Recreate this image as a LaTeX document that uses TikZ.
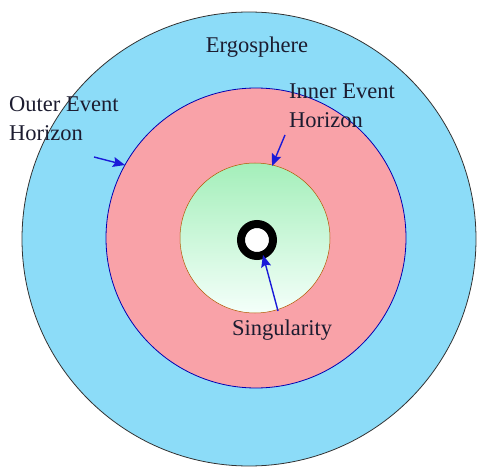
\documentclass[tikz,border=0pt]{standalone}
\usepackage{fontspec}
\setmainfont{Liberation Serif}
\usetikzlibrary{arrows.meta}
\definecolor{ergoblue}{HTML}{8CDCF8}
\definecolor{horizonpink}{HTML}{F9A2A8}
\definecolor{coregreen}{HTML}{A4EFBA}
\definecolor{corewhite}{HTML}{F4FFFA}
\definecolor{arrowblue}{HTML}{1A1AD8}
\definecolor{labelink}{HTML}{1C1C30}

\begin{document}
\begin{tikzpicture}[x=1pt,y=-1pt]
  \tikzset{zone/.style={circle,inner sep=0pt,line width=0.8pt}}
  \tikzset{zonelabel/.style={font=\rmfamily\fontsize{22.5}{29}\selectfont,inner sep=0pt,align=left,text=labelink}}
  \tikzset{pointer/.style={draw=arrowblue,line width=1.4pt,-{Stealth[length=12pt,width=10pt,inset=2pt]}}}
  \useasboundingbox (0,0) rectangle (477,468);
  % the three regions
  \node[zone,draw=black!80,fill=ergoblue,minimum size=454pt] (ergo) at (249,239) {};
  \node[zone,draw=blue!70!black,fill=horizonpink,minimum size=300pt] (outerh) at (256,238) {};
  \node[zone,draw=orange!70!black,line width=0.5pt,top color=coregreen,bottom color=corewhite,minimum size=150pt] (innerh) at (255,238) {};
  % singularity ring
  \node[zone,draw=black,fill=white,line width=8pt,minimum size=32pt] (sing) at (257,240) {};
  % labels
  \node[zonelabel,anchor=base] (ergolabel) at (257,53) {Ergosphere};
  \node[zonelabel,anchor=base west] (outerlabel) at (9,141) {Outer Event\\Horizon};
  \node[zonelabel,anchor=base west] (innerlabel) at (289,128) {Inner Event\\Horizon};
  \node[zonelabel,anchor=base] (singlabel) at (282,335) {Singularity};
  % pointers
  \coordinate (outertail) at (94,157);
  \coordinate (outertip) at (125,165);
  \coordinate (innertail) at (285,135);
  \coordinate (innertip) at (272,166);
  \coordinate (singtail) at (278,311);
  \coordinate (singtip) at (263,255);
  \draw[pointer] (outertail) -- (outertip);
  \draw[pointer] (innertail) -- (innertip);
  \draw[pointer] (singtail) -- (singtip);
\end{tikzpicture}
\end{document}
